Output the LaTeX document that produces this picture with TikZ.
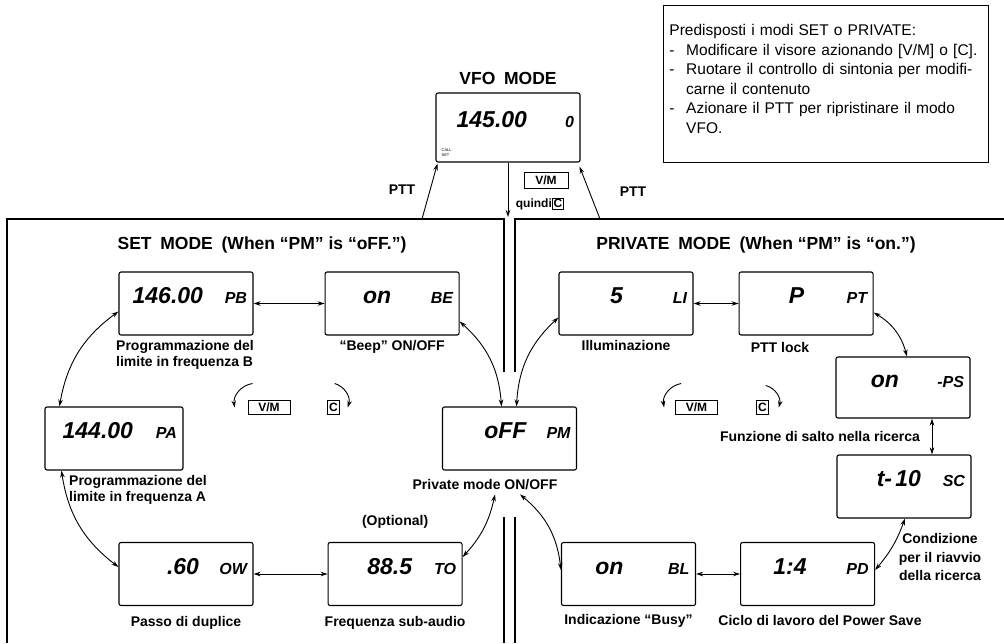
\documentclass[tikz,border=0pt]{standalone}
\usepackage{fontspec}
\setmainfont{Liberation Sans}
\usetikzlibrary{arrows.meta,positioning}
\tikzset{%
  display/.style={draw,line width=1.1pt,rounded corners=2pt,minimum height=63pt,text width=122pt,inner xsep=6pt,align=right,text height=0pt,text depth=0pt},
  caption/.style={font=\bfseries\fontsize{14}{16}\selectfont,align=center,inner sep=1pt},
  title/.style={font=\bfseries\fontsize{17.5}{20}\selectfont},
  key/.style={draw,line width=0.8pt,inner sep=1.5pt,minimum height=14pt,font=\bfseries\fontsize{12}{12}\selectfont},
  frame/.style={line width=1.2pt},
  arrow/.style={line width=0.9pt,{Stealth[length=7pt,width=4.5pt]}-{Stealth[length=7pt,width=4.5pt]}},
  push/.style={line width=0.9pt,-{Stealth[length=7pt,width=4.5pt]}},
}
\newcommand\lcd[3][44pt]{{\fontsize{23}{23}\selectfont\bfseries\itshape #2}\makebox[#1][r]{\fontsize{16}{16}\selectfont\bfseries\itshape #3}}
\newcommand\keycap[1]{{\setlength\fboxsep{1pt}\setlength\fboxrule{0.8pt}\fbox{#1}}}

\begin{document}
\begin{tikzpicture}[x=1pt,y=-1pt,node distance=10pt]
  \useasboundingbox (0,0) rectangle (1004,643);

  \draw[frame] (504,372) |- (7,219) -- (7,643);
  \draw[frame] (504,517) -- (504,643);
  \draw[frame] (515,372) |- (1004,219);
  \draw[frame] (515,517) -- (515,643);

  \node[title] (vfotitle) at (508,78) {VFO\enspace MODE};
  \node[display,text width=132pt,minimum height=69pt] (vfo) at (508,127.5) {\lcd[47pt]{145.00}{0}};
  \node[font=\fontsize{4}{4.5}\selectfont,align=left,anchor=south west,inner sep=0pt] (callset) at ([shift={(6,-6)}]vfo.south west) {CALL\\SET};

  \node[draw,line width=0.9pt,anchor=north west,align=left,text width=313pt,inner xsep=6pt,inner ysep=19pt,font=\fontsize{15.5}{19.5}\selectfont] (info) at (663,5) {Predisposti i modi SET o PRIVATE:\\
    -\hspace{0.75em}Modificare il visore azionando [V/M] o [C].\\
    -\hspace{0.75em}Ruotare il controllo di sintonia per modifi-\\
    \hphantom{-\hspace{0.75em}}carne il contenuto\\
    -\hspace{0.75em}Azionare il PTT per ripristinare il modo\\
    \hphantom{-\hspace{0.75em}}VFO.\rule[-10pt]{0pt}{0pt}};

  \node[caption] (pttl) at (402,190) {PTT};
  \node[caption] (pttr) at (633,192) {PTT};
  \node[key,minimum width=44pt,minimum height=16pt] (vmtop) at (546,180) {V/M};
  \node[caption,font=\bfseries\fontsize{12}{12}\selectfont] (quindi) at (540,204) {quindi\keycap{C}};

  \node[title] (settitle) at (262,245) {SET\enspace MODE\enspace (When “PM” is “oFF.”)};
  \node[title] (privtitle) at (756,245) {PRIVATE\enspace MODE\enspace (When “PM” is “on.”)};

  \node[display] (pb) at (186,303.5) {\lcd{146.00}{PB}};
  \node[display,right=71pt of pb] (be) {\lcd[62pt]{on}{BE}};
  \node[display,text width=126pt] (pa) at (114,438.5) {\lcd{144.00}{PA}};
  \node[display] (pm) at (509.5,438.5) {\lcd{oFF}{PM}};
  \node[display] (ow) at (186,574) {\lcd[48pt]{.60}{OW}};
  \node[display,right=74pt of ow] (tone) {\lcd{88.5}{TO}};

  \node[display] (li) at (626,303.5) {\lcd[64pt]{5}{LI}};
  \node[display,right=45pt of li] (ptt) {\lcd[63pt]{P}{PT}};
  \node[display,minimum height=61pt] (ps) at (903,387.5) {\lcd[65pt]{on}{-PS}};
  \node[display] (sc) at (904,486.5) {\lcd{t- 10}{SC}};
  \node[display] (bl) at (628.5,574) {\lcd[66pt]{on}{BL}};
  \node[display,right=44pt of bl] (pd) {\lcd[62pt]{1:4}{PD}};

  \node[caption,align=left,anchor=north west] (pbcap) at (115,339) {Programmazione del\\limite in frequenza B};
  \node[caption,below=4pt of be] (becap) {“Beep” ON/OFF};
  \node[caption,align=left,anchor=north west] (pacap) at (68,474) {Programmazione del\\limite in frequenza A};
  \node[caption] (pmcap) at (485,485) {Private mode ON/OFF};
  \node[caption,below=9pt of ow] (owcap) {Passo di duplice};
  \node[caption,below=9pt of tone] (tonecap) {Frequenza sub-audio};
  \node[caption,above=12pt of tone] (optional) {(Optional)};
  \node[caption,below=4pt of li] (licap) {Illuminazione};
  \node[caption] (pttcap) at (780,347) {PTT lock};
  \node[caption] (pscap) at (820,436) {Funzione di salto nella ricerca};
  \node[caption,font=\bfseries\fontsize{14}{18.5}\selectfont] (sccap) at (940,557) {Condizione\\per il riavvio\\della ricerca};
  \node[caption,below=7pt of bl] (blcap) {Indicazione “Busy”};
  \node[caption] (pdcap) at (820,620) {Ciclo di lavoro del Power Save};

  \node[key,minimum width=42pt] (vma) at (269,407.5) {V/M};
  \node[key] (ca) at (333.5,407.5) {C};
  \node[key,minimum width=42pt] (vmb) at (696.5,407.5) {V/M};
  \node[key] (cb) at (762.5,407.5) {C};

  \coordinate (pttlfoot) at (422,219);
  \coordinate (pttrfoot) at (600,219);
  \coordinate (vmfoot) at (508,217);

  \draw[push] (pttlfoot) -- ([xshift=2pt,yshift=-1pt]vfo.south west);
  \draw[push] (vfo.south) -- (vmfoot);
  \draw[push] (pttrfoot) -- ([xshift=-1pt,yshift=-4pt]vfo.south east);

  \draw[arrow] (pb.east) -- (be.west);
  \draw[arrow] ([yshift=-8pt]pb.west) to[bend right=22] ([xshift=15pt]pa.north west);
  \draw[arrow] ([xshift=17pt]pa.south west) to[bend right=22] ([yshift=7pt]ow.west);
  \draw[arrow] (ow.east) -- (tone.west);
  \draw[arrow] ([yshift=17pt]tone.east) to[bend right=15] ([xshift=10pt,yshift=-3pt]pmcap.south);
  \draw[arrow] ([yshift=-18pt]be.east) to[bend left=22] ([xshift=-8pt]pm.north);
  \draw[arrow] ([xshift=7pt]pm.north) to[bend left=22] ([yshift=-14pt]li.west);
  \draw[arrow] ([xshift=35pt,yshift=-3pt]pmcap.south) to[bend left=22] ([yshift=4pt]bl.west);
  \draw[arrow] (li.east) -- (ptt.west);
  \draw[arrow] ([yshift=-9pt]ptt.east) to[bend left=22] ([xshift=4pt]ps.north);
  \draw[arrow] ([xshift=29pt]ps.south) -- ([xshift=28pt]sc.north);
  \draw[arrow] ([xshift=1pt]sc.south) to[bend left=10] ([yshift=4pt]pd.east);
  \draw[arrow] (bl.east) -- (pd.west);

  \draw[push] ([shift={(5,-24)}]vma.west) to[bend right=45] ([shift={(-13,0)}]vma.west);
  \draw[push] ([shift={(-5,-24)}]ca.east) to[bend left=45] ([shift={(8,0)}]ca.east);
  \draw[push] ([shift={(6,-24)}]vmb.west) to[bend right=45] ([shift={(-11,0)}]vmb.west);
  \draw[push] ([shift={(-3,-22)}]cb.east) to[bend left=45] ([shift={(10,0)}]cb.east);
\end{tikzpicture}
\end{document}
